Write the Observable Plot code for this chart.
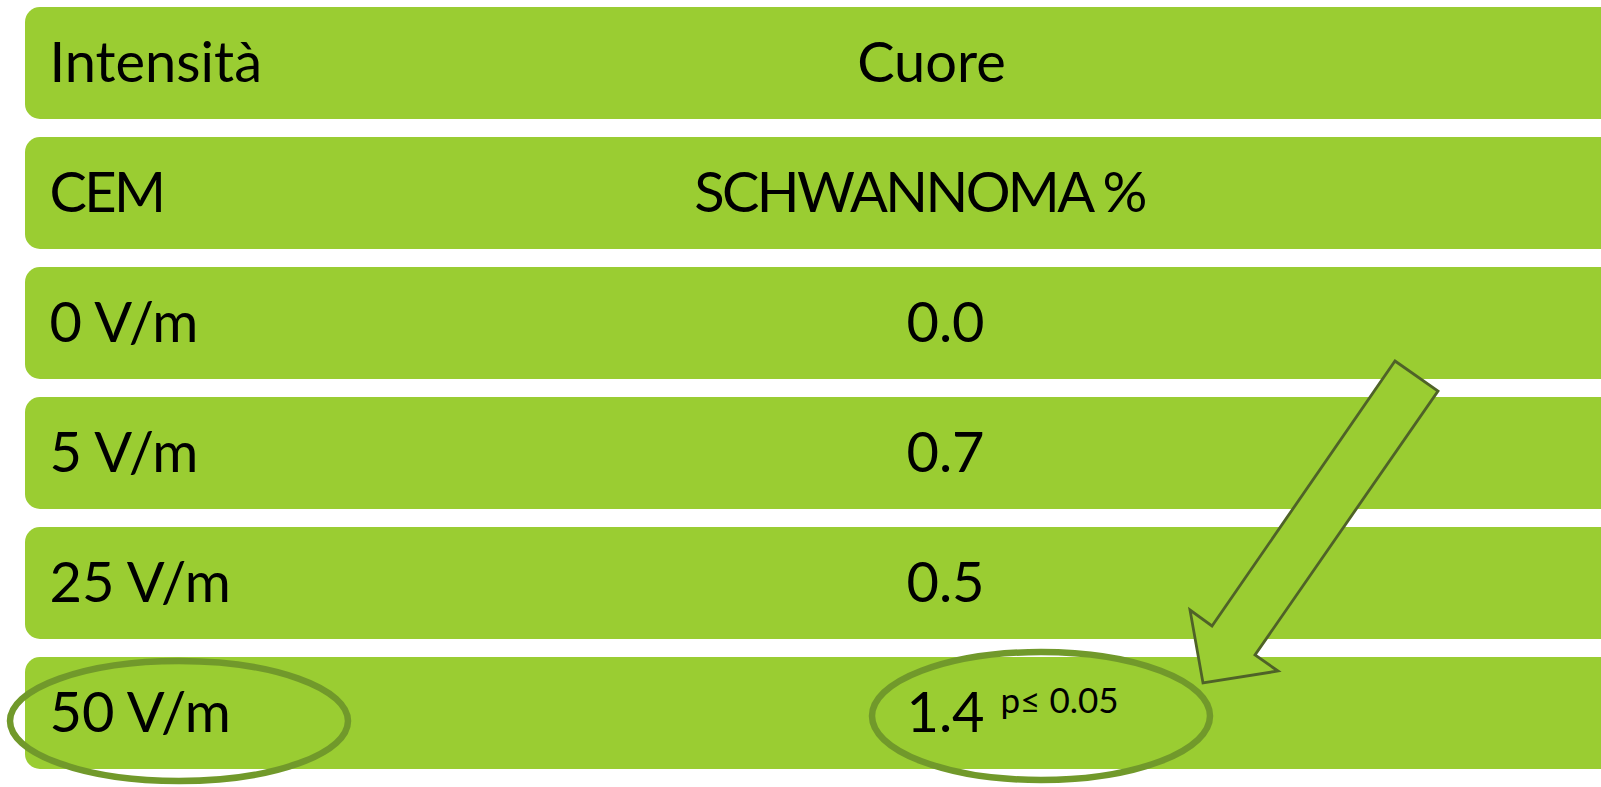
<!DOCTYPE html>
<html>
<head>
<meta charset="utf-8">
<script src="https://cdn.jsdelivr.net/npm/d3@7"></script>
<script src="https://cdn.jsdelivr.net/npm/@observablehq/plot@0.6"></script>
<style>
  html, body { margin: 0; padding: 0; background: #fff; overflow: hidden; }
</style>
</head>
<body>
<div id="chart"></div>
<script>
// ---- data ----
const headerRows = ["Intensità", "CEM"];
const headerTexts = ["Cuore", "SCHWANNOMA %"];
const intensities = ["0 V/m", "5 V/m", "25 V/m", "50 V/m"];
const schwannoma = [0.0, 0.7, 0.5, 1.4];
const significance = ["", "", "", "p≤ 0.05"];
const highlighted = "50 V/m";

// ---- layout / style ----
const W = 1601, H = 787;
const GREEN = "#9ACD32", OLIVE = "#71992B", DARK = "#4F6228";
const FONT = "Lato, 'Open Sans', sans-serif";
const FS = 56;
const headerX = [931, 919];
const valueX = 945;
const arrowPts = [[1395, 361], [1438, 391], [1255, 655], [1278, 671], [1203, 683], [1190, 610], [1212, 626]];

const rowKeys = [...headerRows, ...intensities];
const cells = [
  ...headerRows.map((r, i) => ({row: r, text: headerTexts[i], x: headerX[i]})),
  ...intensities.map((r, i) => ({row: r, text: schwannoma[i].toFixed(1), x: valueX}))
];
const notes = intensities.map((r, i) => ({row: r, text: significance[i]})).filter(d => d.text);

function annotations(index, scales) {
  const x = scales.x, y = scales.y;
  const bw = y.bandwidth ? y.bandwidth() : 112;
  const yc = y(highlighted) + bw / 2;
  const g = d3.create("svg:g");
  // arrow
  g.append("polygon")
    .attr("points", arrowPts.map(([px, py]) => `${x(px)},${py}`).join(" "))
    .attr("fill", GREEN)
    .attr("stroke", DARK)
    .attr("stroke-width", 2.8)
    .attr("stroke-linejoin", "miter");
  // ellipses
  g.append("ellipse").attr("cx", x(179)).attr("cy", yc + 8).attr("rx", 169).attr("ry", 60)
    .attr("fill", "none").attr("stroke", OLIVE).attr("stroke-width", 6.5);
  g.append("ellipse").attr("cx", x(1041)).attr("cy", yc + 3).attr("rx", 169).attr("ry", 64)
    .attr("fill", "none").attr("stroke", OLIVE).attr("stroke-width", 6.5);
  return g.node();
}

const chart = Plot.plot({
  width: W,
  height: H,
  margin: 0,
  style: {background: "white", fontFamily: FONT},
  x: {domain: [0, W], range: [0, W], axis: null},
  y: {domain: rowKeys, range: [7, 769], paddingInner: 18 / 130, paddingOuter: 0, align: 0, axis: null},
  marks: [
    Plot.barX(rowKeys, {x1: 25, x2: 1660, y: d => d, fill: GREEN, rx: 15}),
    Plot.text(rowKeys, {x: 49, y: d => d, text: d => d, textAnchor: "start", fontSize: FS, fontFamily: FONT, fill: "black", dy: 1}),
    Plot.text(cells, {x: "x", y: "row", text: "text", textAnchor: "middle", fontSize: FS, fontFamily: FONT, fill: "black", dy: 1}),
    Plot.text(notes, {x: 1000, y: "row", text: "text", textAnchor: "start", fontSize: 35, fontFamily: FONT, fill: "black", dy: -12}),
    annotations
  ]
});
// Lato capitals are wider than the original face: tighten all-caps labels
d3.select(chart).selectAll("text")
  .filter(function() { return /^[A-Z %]+$/.test(this.textContent); })
  .style("letter-spacing", "-2.6px");
document.getElementById("chart").appendChild(chart);
</script>
</body>
</html>
